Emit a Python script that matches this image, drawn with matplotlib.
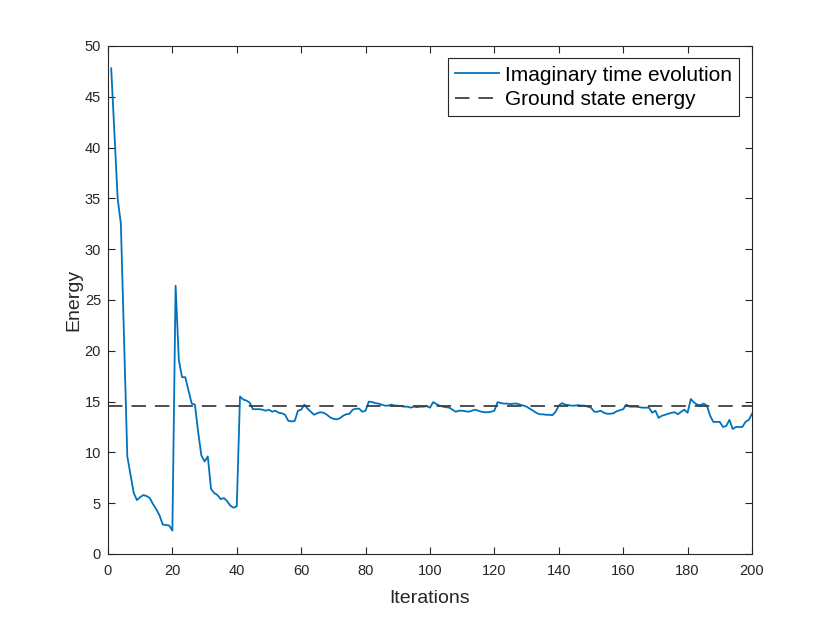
import numpy as np
import matplotlib
matplotlib.use("Agg")
import matplotlib.pyplot as plt

plt.rcParams['font.family'] = ['Liberation Sans', 'DejaVu Sans']

# energy per iteration
energy = [
    47.8, 41.5, 35.0, 32.5, 21.0, 9.6, 7.8, 6.0, 5.3, 5.6,
    5.8, 5.7, 5.5, 4.9, 4.4, 3.8, 2.9, 2.85, 2.8, 2.3,
    26.4, 19.1, 17.4, 17.4, 16.1, 14.8, 14.7, 12.0, 9.7, 9.1,
    9.6, 6.4, 6.0, 5.8, 5.4, 5.5, 5.2, 4.75, 4.55, 4.7,
    15.5, 15.2, 15.1, 14.9, 14.25, 14.25, 14.25, 14.2, 14.1, 14.2,
    14.0, 14.1, 13.9, 13.85, 13.7, 13.1, 13.05, 13.1, 14.1, 14.2,
    14.7, 14.3, 14.0, 13.7, 13.85, 13.95, 13.9, 13.7, 13.45, 13.3,
    13.25, 13.35, 13.6, 13.75, 13.8, 14.2, 14.3, 14.3, 14.0, 14.1,
    15.0, 14.95, 14.85, 14.8, 14.7, 14.6, 14.6, 14.7, 14.6, 14.6,
    14.55, 14.5, 14.5, 14.4, 14.5, 14.45, 14.5, 14.5, 14.55, 14.4,
    14.95, 14.75, 14.6, 14.5, 14.45, 14.4, 14.2, 14.0, 14.1, 14.1,
    14.05, 14.0, 14.1, 14.2, 14.1, 14.0, 13.95, 13.95, 14.0, 14.1,
    14.95, 14.85, 14.8, 14.8, 14.75, 14.8, 14.8, 14.7, 14.6, 14.5,
    14.3, 14.1, 13.9, 13.75, 13.75, 13.7, 13.7, 13.65, 14.0, 14.6,
    14.85, 14.7, 14.65, 14.6, 14.6, 14.65, 14.6, 14.6, 14.5, 14.4,
    14.0, 14.0, 14.1, 13.9, 13.8, 13.8, 13.85, 14.05, 14.15, 14.25,
    14.7, 14.5, 14.5, 14.5, 14.45, 14.4, 14.4, 14.4, 13.9, 14.1,
    13.4, 13.6, 13.7, 13.8, 13.9, 13.95, 13.75, 14.0, 14.2, 13.9,
    15.25, 14.9, 14.7, 14.65, 14.8, 14.6, 13.6, 13.0, 13.0, 13.0,
    12.5, 12.6, 13.2, 12.3, 12.5, 12.5, 12.5, 13.0, 13.2, 13.8,
]
iterations = np.arange(1, len(energy) + 1)
ground_energy = 14.6

fig = plt.figure(figsize=(8.3, 6.23), dpi=100)
ax = fig.add_axes([0.1301, 0.1108, 0.7759, 0.8154])

ax.plot(iterations, energy, color='#0072BD', lw=1.3, label='Imaginary time evolution')
ax.plot([0, 200], [ground_energy, ground_energy], color='#404040', lw=1.3,
        dashes=(8, 5), label='Ground state energy')

ax.set_xlim(0, 200)
ax.set_ylim(0, 50)
ax.set_xticks(np.arange(0, 201, 20))
ax.set_yticks(np.arange(0, 51, 5))

axcol = '#262626'
for s in ax.spines.values():
    s.set_color(axcol)
    s.set_linewidth(0.8)
ax.tick_params(direction='in', top=True, right=True, length=5, width=0.8,
               colors=axcol, labelsize=10.5)
ax.tick_params(axis='x', pad=7)
ax.tick_params(axis='y', pad=5)

ax.set_xlabel('Iterations', fontsize=14, color=axcol, labelpad=9)
ax.set_ylabel('Energy', fontsize=14, color=axcol, labelpad=2)

leg = ax.legend(loc='upper right', fontsize=15, frameon=True, fancybox=False,
                edgecolor=axcol, framealpha=1, handlelength=2.1,
                borderpad=0.35, labelspacing=0.25, handletextpad=0.3,
                borderaxespad=0.6)
leg.get_frame().set_linewidth(0.8)

fig.savefig('out.png', dpi=100)
